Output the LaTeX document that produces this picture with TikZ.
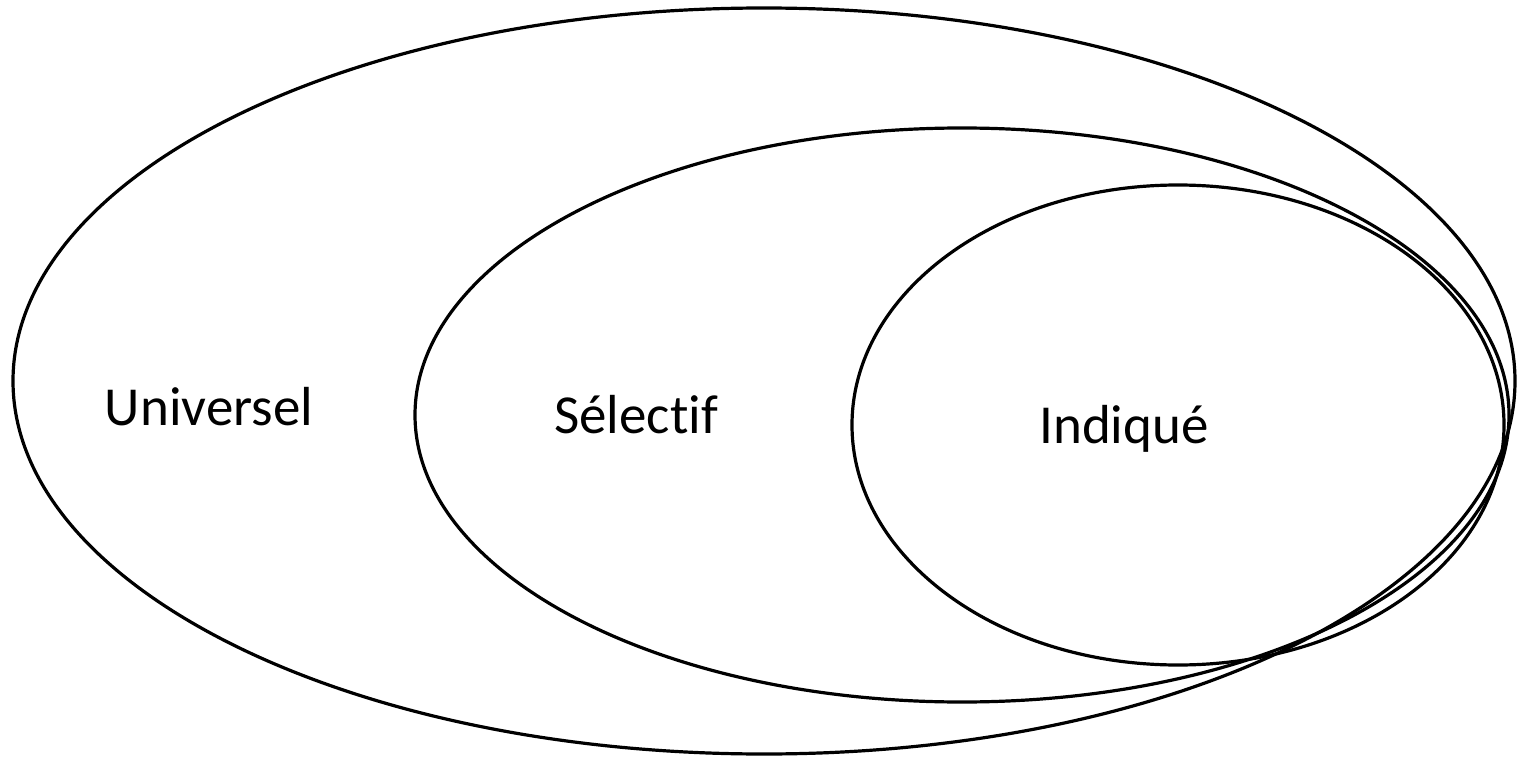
\documentclass[tikz,border=0pt]{standalone}
\usepackage{fontspec}
\setmainfont{Carlito}[Ligatures={NoCommon}]
\usetikzlibrary{shapes.geometric}
\begin{document}
\begin{tikzpicture}[x=1pt,y=-1pt,
  ring/.style={draw=black,line width=3.2pt},
  lab/.style={anchor=base,inner sep=0pt,font=\fontsize{55}{60}\selectfont}]
\useasboundingbox (0,0) rectangle (1521,757);
\draw[ring] (764,381) ellipse [x radius=751,y radius=373];
\draw[ring] (962,415) ellipse [x radius=547,y radius=287];
\draw[ring] (1178,425) ellipse [x radius=326,y radius=240];
\node[lab] (u) at (209,425) {Universel};
\node[lab] (s) at (636,433) {Sélectif};
\node[lab] (i) at (1124,443) {Indiqué};
\end{tikzpicture}
\end{document}
